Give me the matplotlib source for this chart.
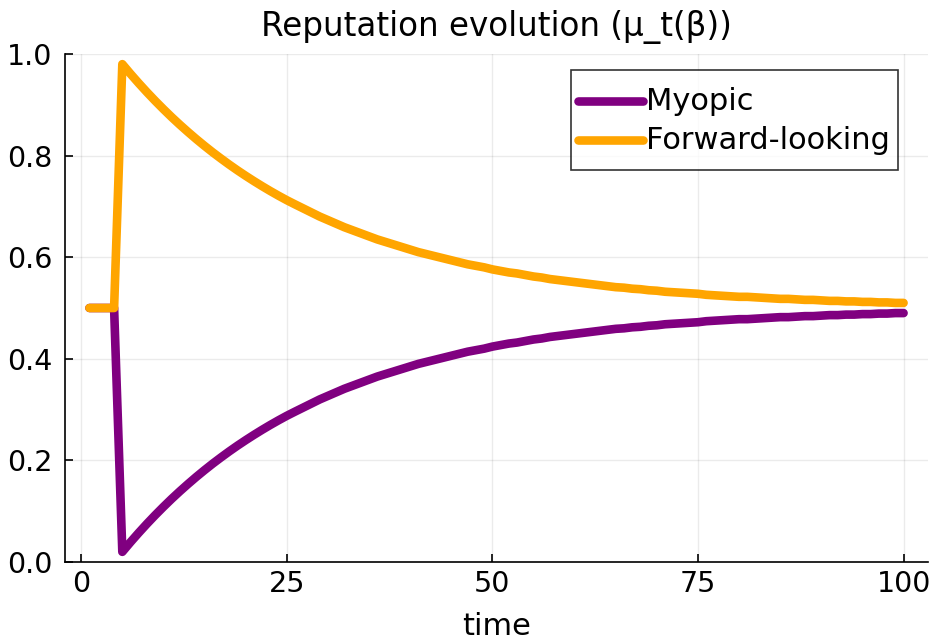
import matplotlib
matplotlib.use("Agg")
import matplotlib.pyplot as plt

time = list(range(1, 101))

myopic = [0.5, 0.5, 0.5, 0.5,
    0.0200, 0.0392, 0.0576, 0.0753, 0.0923, 0.1086, 0.1243, 0.1393, 0.1537, 0.1676,
    0.1809, 0.1937, 0.2059, 0.2177, 0.2290, 0.2398, 0.2502, 0.2602, 0.2698, 0.2790,
    0.2878, 0.296, 0.304, 0.312, 0.320, 0.327, 0.334, 0.341, 0.347, 0.353,
    0.359, 0.365, 0.370, 0.375, 0.380, 0.385, 0.390, 0.394, 0.398, 0.402,
    0.406, 0.410, 0.414, 0.417, 0.420, 0.424, 0.427, 0.430, 0.432, 0.435,
    0.438, 0.440, 0.443, 0.445, 0.447, 0.449, 0.451, 0.453, 0.455, 0.457,
    0.459, 0.460, 0.462, 0.463, 0.465, 0.466, 0.468, 0.469, 0.470, 0.471,
    0.472, 0.474, 0.475, 0.476, 0.477, 0.478, 0.478, 0.479, 0.480, 0.481,
    0.482, 0.482, 0.483, 0.484, 0.484, 0.485, 0.486, 0.486, 0.487, 0.487,
    0.488, 0.488, 0.489, 0.489, 0.490, 0.490]

forward = [0.5, 0.5, 0.5, 0.5,
    0.9800, 0.9608, 0.9424, 0.9247, 0.9077, 0.8914, 0.8757, 0.8607, 0.8463, 0.8324,
    0.8191, 0.8063, 0.7941, 0.7823, 0.7710, 0.7602, 0.7498, 0.7398, 0.7302, 0.7210,
    0.7122, 0.704, 0.696, 0.688, 0.680, 0.673, 0.666, 0.659, 0.653, 0.647,
    0.641, 0.635, 0.630, 0.625, 0.620, 0.615, 0.610, 0.606, 0.602, 0.598,
    0.594, 0.590, 0.586, 0.583, 0.580, 0.576, 0.573, 0.570, 0.568, 0.565,
    0.562, 0.560, 0.557, 0.555, 0.553, 0.551, 0.549, 0.547, 0.545, 0.543,
    0.541, 0.540, 0.538, 0.537, 0.535, 0.534, 0.532, 0.531, 0.530, 0.529,
    0.528, 0.526, 0.525, 0.524, 0.523, 0.522, 0.522, 0.521, 0.520, 0.519,
    0.518, 0.518, 0.517, 0.516, 0.516, 0.515, 0.514, 0.514, 0.513, 0.513,
    0.512, 0.512, 0.511, 0.511, 0.510, 0.510]

labels = ["Myopic", "Forward-looking"]
colors = ["#800080", "#FFA500"]
title = "Reputation evolution (μ_t(β))"
xlabel = "time"
xticks = [0, 25, 50, 75, 100]
yticks = [0.0, 0.2, 0.4, 0.6, 0.8, 1.0]

plt.rcParams['font.family'] = ['DejaVu Sans']
fig = plt.figure(figsize=(9.31, 6.42), dpi=100)
ax = fig.add_axes([65/931, 1-562/642, (928-65)/931, (562-54)/642])

for vals, lab, col in zip([myopic, forward], labels, colors):
    ax.plot(time, vals, color=col, lw=6.2, label=lab, solid_capstyle='round', solid_joinstyle='round')

ax.set_xlim(-1.97, 102.97)
ax.set_ylim(0, 1)
ax.set_xticks(xticks)
ax.set_yticks(yticks)
ax.set_yticklabels([f"{v:.1f}" for v in yticks])
ax.tick_params(direction='in', length=6, width=1.2, labelsize=20.5, colors='black')
ax.tick_params(axis='x', pad=6)
ax.tick_params(axis='y', pad=9)
ax.grid(True, color='#000000', alpha=0.08, lw=1)
for s in ['top', 'right']:
    ax.spines[s].set_visible(False)
for s in ['left', 'bottom']:
    ax.spines[s].set_linewidth(1.2)
ax.set_title(title, fontsize=23.5, pad=13)
ax.set_xlabel(xlabel, fontsize=22, labelpad=10)

leg = ax.legend(loc='upper right', bbox_to_anchor=(0.965, 0.969), fontsize=22, frameon=True, fancybox=False,
                edgecolor='black', handlelength=2.1, handleheight=1.95, handletextpad=0.12,
                borderpad=0.25, labelspacing=-0.23, borderaxespad=0)
leg.get_frame().set_linewidth(1.2)
for legline in leg.get_lines():
    legline.set_ydata([y - 5 for y in legline.get_ydata()])

fig.savefig("out.png", dpi=100)
